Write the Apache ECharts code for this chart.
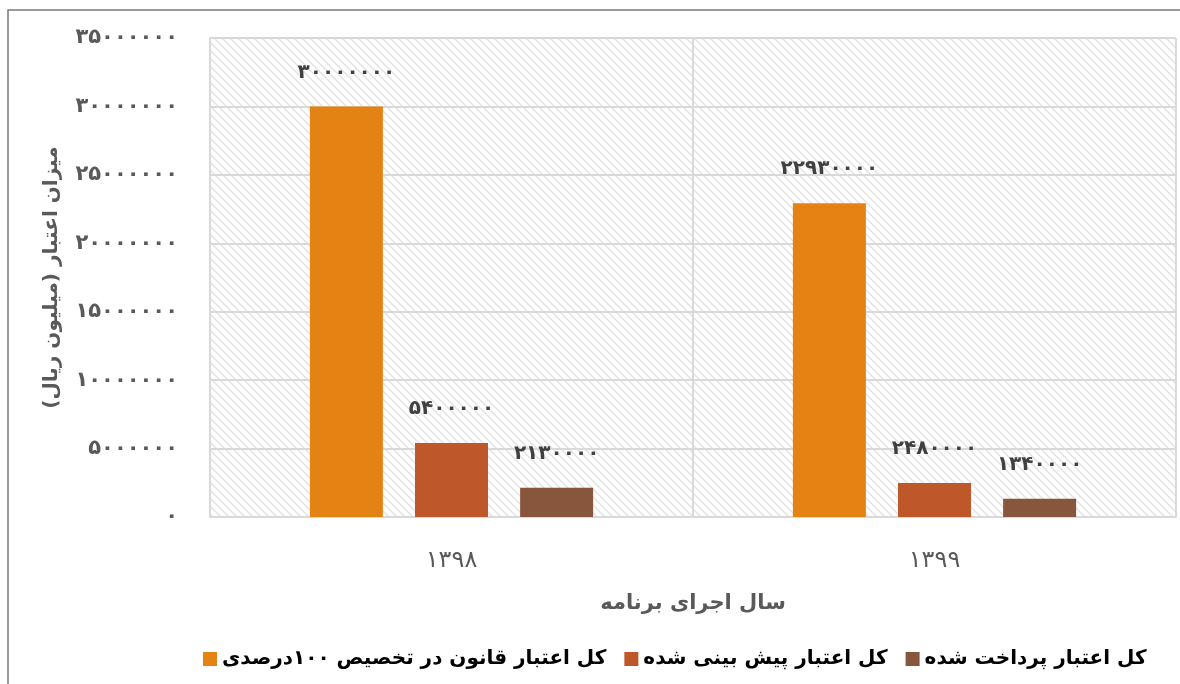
<!DOCTYPE html>
<html>
<head>
<meta charset="utf-8">
<script src="https://cdn.jsdelivr.net/npm/echarts@6/dist/echarts.min.js"></script>
<style>
  html, body { margin: 0; padding: 0; background: #fff; }
  #chart { width: 1180px; height: 684px; }
</style>
</head>
<body>
<div id="chart" dir="rtl"></div>
<script>
// داده‌ها
const years = ['1398', '1399']
const seriesNames = [
  'کل اعتبار قانون در تخصیص ۱۰۰درصدی',
  'کل اعتبار پیش بینی شده',
  'کل اعتبار پرداخت شده'
]
const lawBudget = [30000000, 22930000]
const forecastBudget = [5400000, 2480000]
const paidBudget = [2130000, 1340000]
const colors = ['#E48213', '#BE582B', '#87563D']

const yMax = 35000000
const yStep = 5000000

// تبدیل ارقام لاتین به فارسی
const faDigits = '۰۱۲۳۴۵۶۷۸۹'
const toFa = v => String(v).replace(/[0-9]/g, d => faDigits[+d])

// الگوی هاشور پس‌زمینه
const makeHatch = () => {
  const s = 8
  const c = document.createElement('canvas')
  c.width = s
  c.height = s
  const ctx = c.getContext('2d')
  ctx.fillStyle = '#ffffff'
  ctx.fillRect(0, 0, s, s)
  ctx.strokeStyle = '#e2e2e2'
  ctx.lineWidth = 1.5
  ctx.beginPath()
  ctx.moveTo(-1, -1); ctx.lineTo(s + 1, s + 1)
  ctx.moveTo(-1, s - 1); ctx.lineTo(1, s + 1)
  ctx.moveTo(s - 1, -1); ctx.lineTo(s + 1, 1)
  ctx.stroke()
  return c
}

const fontFamily = '"DejaVu Sans", "Noto Sans", sans-serif'

const chart = echarts.init(document.getElementById('chart'))

const barSeries = [lawBudget, forecastBudget, paidBudget].map((data, i) => ({
  name: seriesNames[i],
  type: 'bar',
  data: data,
  barWidth: 73,
  barGap: '44%',
  itemStyle: { color: colors[i] },
  label: {
    show: true,
    position: 'top',
    distance: 24,
    color: '#404040',
    fontSize: 20,
    fontWeight: 'bold',
    fontFamily: fontFamily,
    formatter: p => toFa(p.value)
  }
}))

const option = {
  animation: false,
  textStyle: { fontFamily: fontFamily },
  graphic: [
    {
      type: 'polyline',
      silent: true,
      shape: { points: [[8, 684], [8, 10], [1180, 10]] },
      style: { stroke: '#7a7a7a', lineWidth: 1.5, fill: null }
    }
  ],
  grid: {
    left: 210,
    right: 4,
    top: 38,
    bottom: 167,
    show: true,
    borderWidth: 0,
    backgroundColor: { image: makeHatch(), repeat: 'repeat' }
  },
  legend: {
    bottom: 10,
    left: 198,
    itemWidth: 14,
    itemHeight: 14,
    itemGap: 18,
    icon: 'rect',
    textStyle: {
      color: '#000',
      fontSize: 20,
      fontWeight: 'bold',
      fontFamily: fontFamily
    },
    data: seriesNames
  },
  xAxis: {
    type: 'category',
    data: years,
    name: 'سال اجرای برنامه',
    nameLocation: 'middle',
    nameGap: 76,
    nameTextStyle: {
      color: '#595959',
      fontSize: 21,
      fontWeight: 'bold',
      fontFamily: fontFamily
    },
    axisLine: { lineStyle: { color: '#d9d9d9', width: 2 } },
    axisTick: { show: false },
    splitLine: { show: true, lineStyle: { color: '#d9d9d9', width: 2 } },
    axisLabel: {
      color: '#595959',
      fontSize: 24,
      margin: 32,
      formatter: v => toFa(v)
    }
  },
  yAxis: {
    type: 'value',
    min: 0,
    max: yMax,
    interval: yStep,
    name: 'میزان اعتبار (میلیون ریال)',
    nameLocation: 'middle',
    nameGap: 148,
    nameTextStyle: {
      color: '#595959',
      fontSize: 20,
      fontWeight: 'bold',
      fontFamily: fontFamily
    },
    axisLine: { show: true, lineStyle: { color: '#d9d9d9', width: 2 } },
    axisTick: { show: false },
    splitLine: { lineStyle: { color: '#d9d9d9', width: 2 } },
    axisLabel: {
      color: '#595959',
      fontSize: 21,
      fontWeight: 'bold',
      margin: 32,
      formatter: v => toFa(v)
    }
  },
  series: barSeries
}

chart.setOption(option)
</script>
</body>
</html>
